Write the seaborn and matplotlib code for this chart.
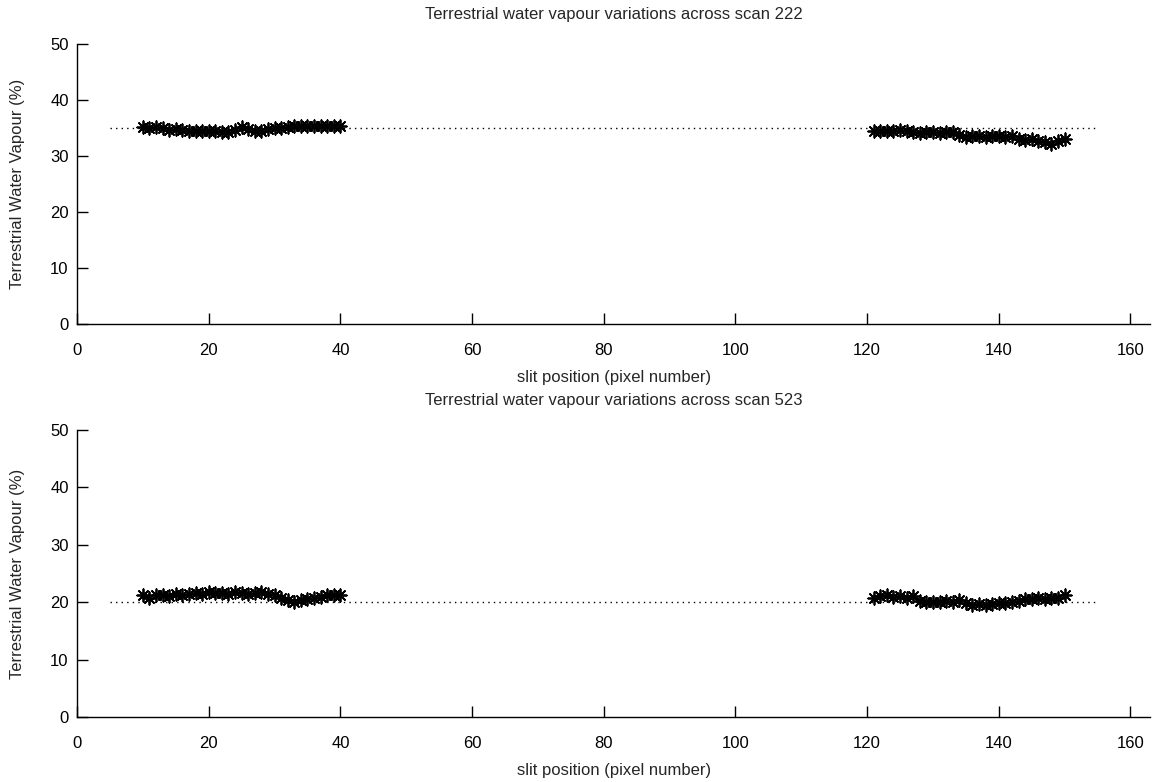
import numpy as np
import pandas as pd
import seaborn as sns
import matplotlib.pyplot as plt

# slit positions (pixel number)
pix_left = list(range(10, 41))
pix_right = list(range(121, 151))

# scan 222 values (%)
scan222_left = [35.1, 35.0, 35.1, 35.0, 34.7, 34.9, 34.6, 34.5, 34.4, 34.5, 34.5,
                34.4, 34.2, 34.3, 34.6, 35.1, 34.9, 34.4, 34.5, 34.9, 35.0, 35.0,
                35.2, 35.3, 35.4, 35.4, 35.4, 35.3, 35.4, 35.4, 35.3]
scan222_right = [34.5, 34.5, 34.4, 34.5, 34.6, 34.4, 34.3, 34.1, 34.2, 34.2,
                 34.1, 34.3, 34.2, 33.8, 33.4, 33.5, 33.5, 33.4, 33.5, 33.6,
                 33.4, 33.5, 33.1, 32.8, 33.0, 32.7, 32.5, 32.1, 32.6, 33.0]
scan222_mean = 35

# scan 523 values (%)
scan523_left = [21.2, 20.8, 21.2, 21.3, 21.1, 21.4, 21.3, 21.5, 21.6, 21.5, 21.7,
                21.6, 21.6, 21.5, 21.7, 21.6, 21.5, 21.6, 21.7, 21.5, 21.3, 20.8,
                20.4, 20.0, 20.3, 20.6, 20.7, 20.9, 21.3, 21.2, 21.3]
scan523_right = [20.8, 21.1, 21.2, 20.9, 21.1, 20.8, 21.0, 20.2, 20.0, 20.1,
                 20.0, 20.2, 20.1, 20.4, 19.9, 19.6, 19.7, 19.6, 19.7, 19.8,
                 19.8, 20.0, 20.2, 20.5, 20.6, 20.7, 20.6, 20.8, 20.7, 21.2]
scan523_mean = 20

ref_x = [5, 155]

sns.set_style("ticks", {"xtick.direction": "in", "ytick.direction": "in"})
plt.rcParams['font.family'] = ['Liberation Sans', 'DejaVu Sans']
plt.rcParams['xtick.direction'] = 'in'
plt.rcParams['ytick.direction'] = 'in'

fig = plt.figure(figsize=(11.57, 7.82), dpi=100)
ax1 = fig.add_axes([0.0666, 0.5857, 0.9275, 0.358])
ax2 = fig.add_axes([0.0666, 0.0831, 0.9275, 0.367])

panels = [
    (ax1, 222, scan222_left, scan222_right, scan222_mean),
    (ax2, 523, scan523_left, scan523_right, scan523_mean),
]

asterisk = (8, 2, 0)

for ax, scan, yl, yr, mean in panels:
    df = pd.DataFrame({"pix": pix_left + pix_right, "wv": yl + yr})
    sns.lineplot(x=ref_x, y=[mean, mean], ax=ax, color="black",
                 linestyle=(0, (1, 3)), linewidth=1)
    sns.scatterplot(data=df, x="pix", y="wv", ax=ax, marker=asterisk, s=80,
                    color="black", edgecolor="black", linewidth=1.3, legend=False)
    ax.set_xlim(0, 163)
    ax.set_ylim(0, 50)
    ax.set_xticks(range(0, 161, 20))
    ax.set_yticks(range(0, 51, 10))
    ax.tick_params(axis="x", direction="in", length=8, width=1, labelsize=12,
                   colors="black", bottom=True, pad=14)
    ax.tick_params(axis="y", direction="in", length=8, width=1, labelsize=12,
                   colors="black", left=True, pad=6)
    for s in ["top", "right"]:
        ax.spines[s].set_visible(False)
    for s in ["left", "bottom"]:
        ax.spines[s].set_color("black")
        ax.spines[s].set_linewidth(1)
    ax.set_title(f"Terrestrial water vapour variations across scan {scan}",
                 fontsize=12, pad=18)
    ax.set_xlabel("slit position (pixel number)", fontsize=12, labelpad=8)
    ax.set_ylabel("Terrestrial Water Vapour (%)", fontsize=12, labelpad=18)

fig.savefig("out.png", dpi=100)
